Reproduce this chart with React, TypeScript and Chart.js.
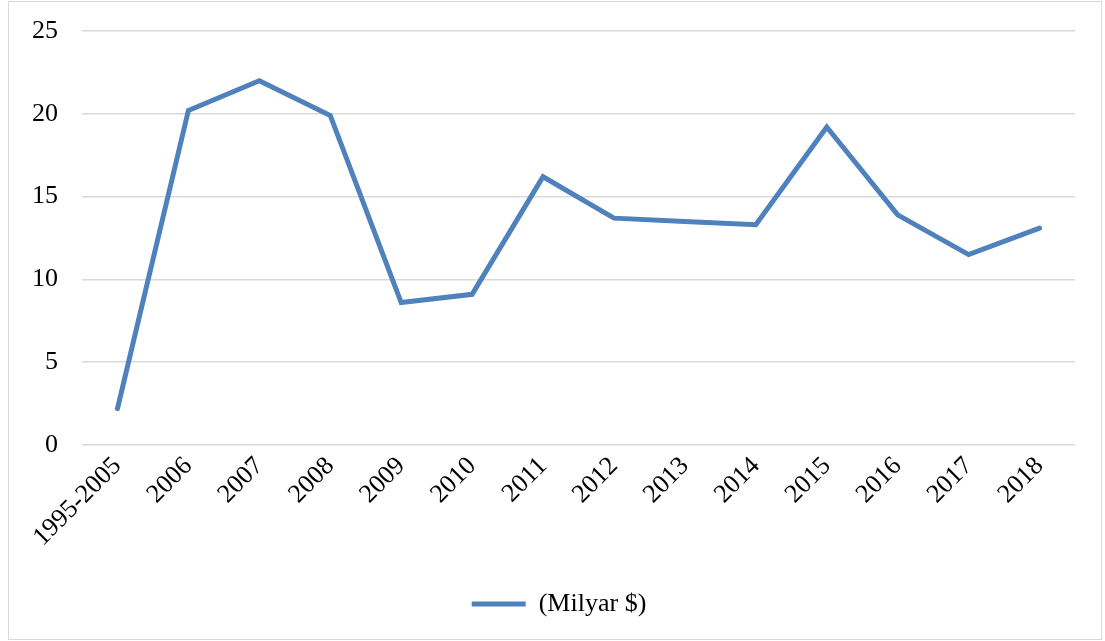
import React, { useEffect, useRef } from "react";
import { Chart, registerables } from "chart.js";

Chart.register(...registerables);

const categories = ["1995-2005", "2006", "2007", "2008", "2009", "2010", "2011", "2012", "2013", "2014", "2015", "2016", "2017", "2018"];
const values = [2.2, 20.2, 22.0, 19.9, 8.6, 9.1, 16.2, 13.7, 13.5, 13.3, 19.2, 13.9, 11.5, 13.1];
const seriesLabel = "(Milyar $)";
const yTicks = [0, 5, 10, 15, 20, 25];

export default function App() {
  const ref = useRef<HTMLCanvasElement | null>(null);
  useEffect(() => {
    if (!ref.current) return;
    const font = { family: "'Liberation Serif', 'Times New Roman', serif", size: 26 };
    const noPad = (s: any) => {
      s.paddingTop = 0;
      s.paddingBottom = 0;
      s.paddingLeft = 0;
      s.paddingRight = 0;
    };
    const chart = new Chart(ref.current, {
      type: "line",
      data: {
        labels: categories,
        datasets: [
          {
            label: seriesLabel,
            data: values,
            borderColor: "#4f81bd",
            backgroundColor: "#4f81bd",
            borderWidth: 5,
            pointRadius: 0,
            pointHoverRadius: 0,
            tension: 0,
            borderCapStyle: "round",
            borderJoinStyle: "miter",
          },
        ],
      },
      options: {
        animation: false,
        responsive: true,
        maintainAspectRatio: false,
        layout: { padding: { left: 8, right: 0, top: 29, bottom: 12 } },
        plugins: {
          tooltip: { enabled: false },
          legend: {
            position: "bottom",
            labels: {
              usePointStyle: true,
              pointStyle: "line",
              pointStyleWidth: 54,
              color: "#000",
              font,
              padding: 10,
            },
          },
        },
        scales: {
          x: {
            offset: true,
            grid: { display: false, drawTicks: false },
            border: { display: false },
            ticks: {
              color: "#000",
              font,
              maxRotation: 45,
              minRotation: 45,
              autoSkip: false,
              padding: 6,
            },
            afterFit: (s: any) => {
              s.height = 136;
              noPad(s);
            },
          },
          y: {
            min: 0,
            max: 25,
            afterBuildTicks: (s: any) => {
              s.ticks = yTicks.map((v) => ({ value: v }));
            },
            grid: { color: "#d9d9d9", lineWidth: 1.5, drawTicks: false },
            border: { display: false },
            ticks: { color: "#000", font, padding: 24 },
            afterFit: (s: any) => {
              s.width = 65;
              noPad(s);
            },
          },
          yRight: {
            type: "linear",
            position: "right",
            display: true,
            grid: { display: false, drawTicks: false },
            border: { display: false },
            ticks: { display: false },
            afterFit: (s: any) => {
              s.width = 26;
              noPad(s);
            },
          },
        },
      },
    });
    return () => chart.destroy();
  }, []);
  return (
    <div
      style={{
        position: "absolute",
        left: 8,
        top: 1,
        width: 1094,
        height: 639,
        border: "1px solid #d9d9d9",
        boxSizing: "border-box",
        background: "#fff",
      }}
    >
      <div style={{ position: "relative", width: "100%", height: "100%" }}>
        <canvas ref={ref} />
      </div>
    </div>
  );
}
